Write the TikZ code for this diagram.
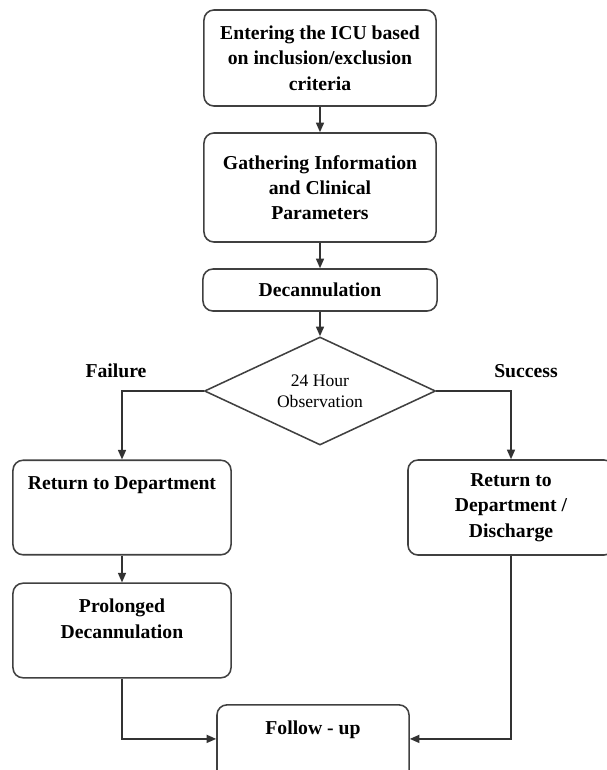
\documentclass[tikz,border=0pt]{standalone}
\usepackage{fontspec}
\setmainfont{Liberation Serif}
\usetikzlibrary{shapes.geometric, arrows.meta}
\begin{document}
\begin{tikzpicture}[x=0.025cm, y=-0.025cm, line width=1.1pt, box/.style={rectangle, rounded corners=0.25cm, draw=black!75, align=center, inner sep=0, font=\bfseries\fontsize{14}{18}\selectfont}, topbox/.style={box, inner ysep=0.4cm}, decision/.style={diamond, draw=black!75, align=center, inner sep=0, aspect=2, minimum width=5.775cm, minimum height=2.7cm, font=\fontsize{12.5}{15}\selectfont}, tag/.style={font=\bfseries\fontsize{14}{18}\selectfont}, arrow/.style={draw=black!80, -{Triangle[length=0.24cm, width=0.2cm]}}]
		\useasboundingbox (0, 0) rectangle (606, 770);
		\node[box, minimum width=5.8cm, minimum height=2.4cm] (1) at (320, 58) {Entering the ICU based\\on inclusion/exclusion\\criteria};
		\node[box, minimum width=5.8cm, minimum height=2.725cm] (2) at (320, 187.5) {Gathering Information\\and Clinical\\Parameters};
		\node[box, minimum width=5.85cm, minimum height=1.05cm] (3) at (320, 290) {Decannulation};
		\node[decision] (4) at (320, 391) {24 Hour\\Observation};
		\node[tag] (9) at (116, 371) {Failure};
		\node[tag] (10) at (526, 371) {Success};
		\node[topbox, minimum width=5.45cm, text depth=1.24cm] (5) at (122, 507.5) {Return to Department};
		\node[box, minimum width=5.15cm, minimum height=2.375cm] (6) at (511, 507.5) {Return to\\Department /\\Discharge};
		\node[topbox, minimum width=5.45cm, text depth=0.59cm] (7) at (122, 630.5) {Prolonged\\Decannulation};
		\node[topbox, minimum width=4.8cm, text depth=1.24cm] (8) at (313, 752.5) {Follow - up};
		\draw[arrow] (1) -- (2);
		\draw[arrow] (2) -- (3);
		\draw[arrow] (3) -- (4);
		\draw[arrow] (4.west) -| (5);
		\draw[arrow] (4.east) -| (6);
		\draw[arrow] (5) -- (7);
		\draw[arrow] (7) |- ([yshift=0.34cm]8.west);
		\draw[arrow] (6) |- ([yshift=0.34cm]8.east);
	\end{tikzpicture}
\end{document}
